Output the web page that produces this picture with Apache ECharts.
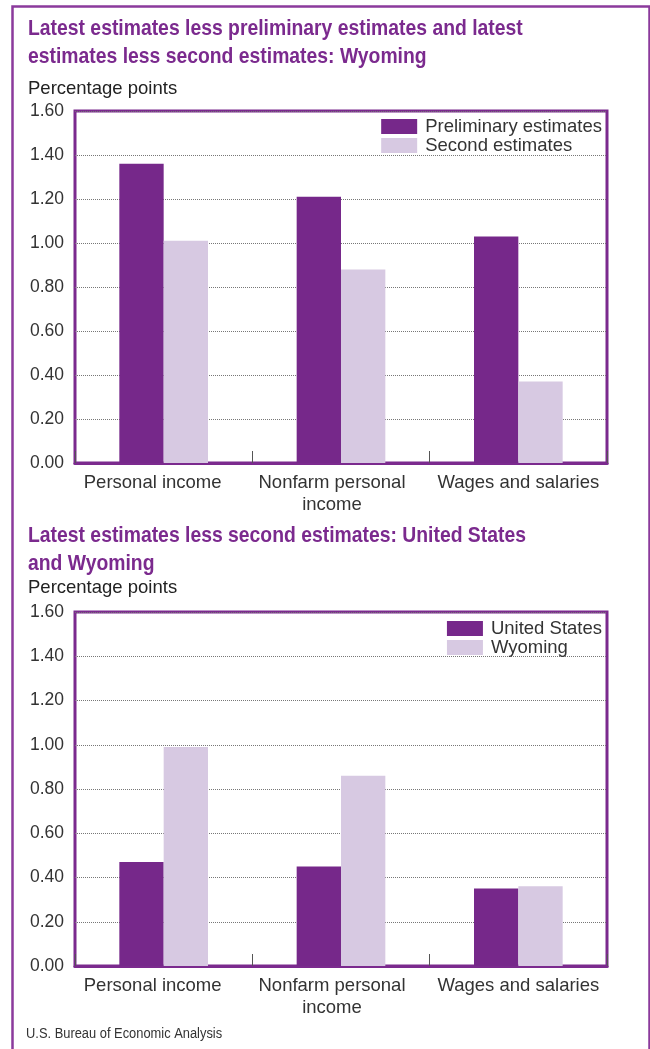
<!DOCTYPE html>
<html>
<head>
<meta charset="utf-8">
<script src="https://cdn.jsdelivr.net/npm/echarts@6/dist/echarts.min.js"></script>
<style>
  html, body { margin: 0; padding: 0; background: #fff; }
  #chart { width: 650px; height: 1049px; }
</style>
</head>
<body>
<div id="chart"></div>
<script>
// data
var categories = ['Personal income', 'Nonfarm personal\nincome', 'Wages and salaries'];
var yTicks = [0, 0.2, 0.4, 0.6, 0.8, 1.0, 1.2, 1.4, 1.6];

var topNames = ['Preliminary estimates', 'Second estimates'];
var preliminary = [1.36, 1.21, 1.03];
var second = [1.01, 0.88, 0.37];

var bottomNames = ['United States', 'Wyoming'];
var unitedStates = [0.47, 0.45, 0.35];
var wyoming = [0.99, 0.86, 0.36];

var dark = '#76288A', light = '#D7C9E2', purple = '#7B2A8E';
var sans = "'Liberation Sans', Arial, sans-serif";

var myChart = echarts.init(document.getElementById('chart'));

// labels in the original sit a bit left of the category centre
var labelShift = [22, 18, 0];

function yAxisFor(idx) {
    return {
        type: 'value', gridIndex: idx,
        min: yTicks[0], max: yTicks[yTicks.length - 1], interval: 0.2,
        axisLine: {show: false}, axisTick: {show: false},
        axisLabel: {fontSize: 17.5, color: '#333', fontFamily: sans, margin: 11,
            formatter: function (v) { return v.toFixed(2); }},
        splitLine: {lineStyle: {type: 'dotted', color: '#777', width: 1}}
    };
}
function xAxisFor(idx) {
    return {
        type: 'category', gridIndex: idx,
        data: categories.map(function (c, i) {
            return {value: c, textStyle: {padding: [0, labelShift[i], 0, 0]}};
        }),
        axisLine: {show: true, lineStyle: {color: purple, width: 3}},
        axisTick: {show: true, inside: true, length: 12, lineStyle: {color: '#555', width: 1}},
        axisLabel: {fontSize: 18.5, color: '#333', fontFamily: sans, margin: 9, lineHeight: 22, interval: 0}
    };
}
function barSeries(name, data, color, idx) {
    return {
        name: name, type: 'bar', data: data,
        xAxisIndex: idx, yAxisIndex: idx,
        barWidth: '25%', barGap: 0,
        itemStyle: {color: color}
    };
}
function condensed(text, x, y, size, bold, color, sx) {
    return {
        type: 'text', x: x, y: y, scaleX: sx, silent: true,
        style: {text: text, fontSize: size, fontWeight: bold ? 'bold' : 'normal',
                fontFamily: sans, fill: color, lineHeight: 28, textVerticalAlign: 'top'}
    };
}
function legendFor(names, top) {
    return {
        data: names, orient: 'vertical', right: 48, top: top,
        itemWidth: 36, itemHeight: 15, itemGap: 0, icon: 'rect', padding: 0,
        textStyle: {fontSize: 18.5, color: '#333', fontFamily: sans, padding: [0, 0, 0, 3]}
    };
}

var option = {
    animation: false,
    title: [
        {text: 'Percentage points', left: 28, top: 79, padding: 0,
         textStyle: {fontSize: 18.5, fontWeight: 'normal', color: '#222', fontFamily: sans}},
        {text: 'Percentage points', left: 28, top: 578, padding: 0,
         textStyle: {fontSize: 18.5, fontWeight: 'normal', color: '#222', fontFamily: sans}}
    ],
    legend: [legendFor(topNames, 117), legendFor(bottomNames, 619)],
    grid: [
        {left: 75, top: 111, width: 532, height: 352, show: true, borderColor: purple, borderWidth: 3, backgroundColor: '#fff'},
        {left: 75, top: 612, width: 532, height: 354, show: true, borderColor: purple, borderWidth: 3, backgroundColor: '#fff'}
    ],
    xAxis: [xAxisFor(0), xAxisFor(1)],
    yAxis: [yAxisFor(0), yAxisFor(1)],
    series: [
        barSeries(topNames[0], preliminary, dark, 0),
        barSeries(topNames[1], second, light, 0),
        barSeries(bottomNames[0], unitedStates, dark, 1),
        barSeries(bottomNames[1], wyoming, light, 1)
    ],
    graphic: [
        {type: 'rect', left: 10, top: 4, shape: {width: 637, height: 1060},
         style: {fill: 'none', stroke: '#8B3A9C', lineWidth: 2.5}, silent: true},
        condensed('Latest estimates less preliminary estimates and latest\nestimates less second estimates: Wyoming',
                  28, 15, 21.5, true, purple, 0.9),
        condensed('Latest estimates less second estimates: United States\nand Wyoming',
                  28, 522, 21.5, true, purple, 0.9),
        condensed('U.S. Bureau of Economic Analysis', 26, 1020, 14, false, '#333', 0.92)
    ]
};

myChart.setOption(option);
</script>
</body>
</html>
